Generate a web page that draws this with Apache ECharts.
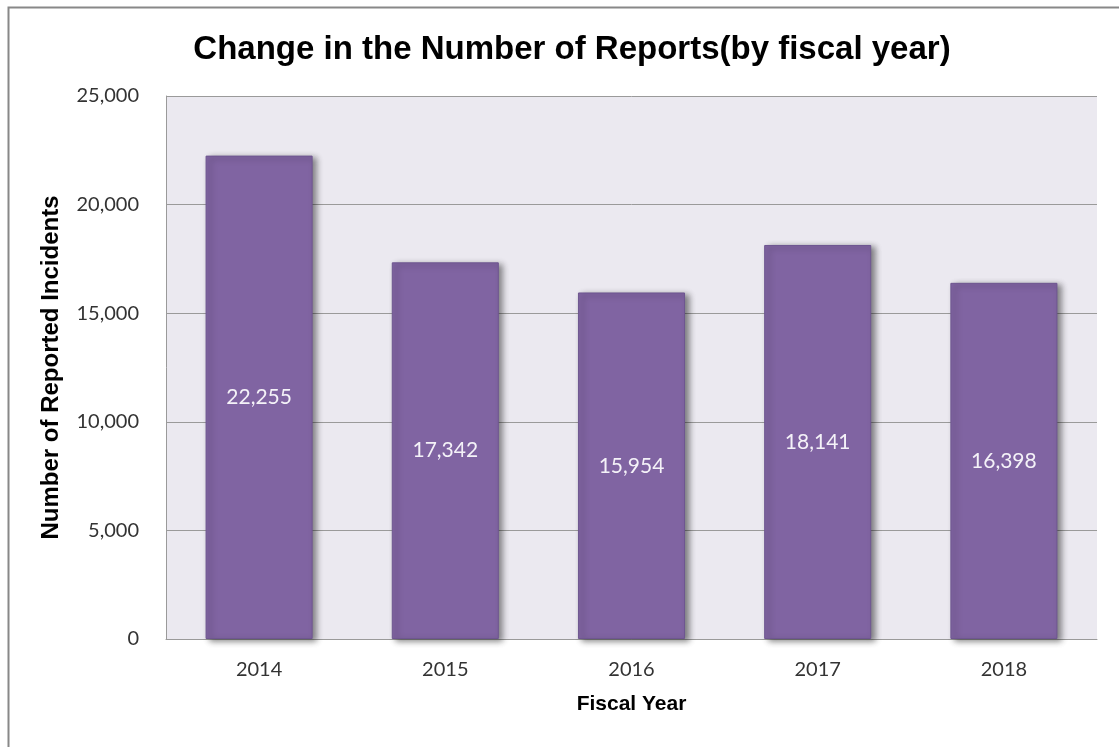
<!DOCTYPE html>
<html>
<head>
<meta charset="utf-8">
<script src="https://cdn.jsdelivr.net/npm/echarts@6/dist/echarts.min.js"></script>
<style>
html,body{margin:0;padding:0;background:#fff;}
#chart{width:1119px;height:747px;}
</style>
</head>
<body>
<div id="chart"></div>
<script>
const titleText = 'Change in the Number of Reports(by fiscal year)';
const categories = ['2014', '2015', '2016', '2017', '2018'];
const reports = [22255, 17342, 15954, 18141, 16398];
const yTicks = { min: 0, max: 25000, interval: 5000 };
const xAxisName = 'Fiscal Year';
const yAxisName = 'Number of Reported Incidents';

const chart = echarts.init(document.getElementById('chart'), null, { renderer: 'canvas' });
chart.setOption({
  animation: false,
  backgroundColor: '#ffffff',
  graphic: [{
    type: 'rect',
    shape: { x: 8.5, y: 7.5, width: 1200, height: 800 },
    style: { fill: 'none', stroke: '#888888', lineWidth: 2 },
    silent: true, z: 100
  }],
  title: {
    text: titleText,
    left: 567, top: 28,
    textAlign: 'center',
    textStyle: { fontFamily: 'Liberation Sans', fontWeight: 'bold', fontSize: 33, color: '#000000' }
  },
  grid: {
    left: 166, right: 22, top: 96, bottom: 108,
    show: true, backgroundColor: '#EBE9F0', borderWidth: 0
  },
  xAxis: {
    type: 'category',
    data: categories,
    name: xAxisName,
    nameLocation: 'middle',
    nameGap: 55,
    nameTextStyle: { fontFamily: 'Liberation Sans', fontWeight: 'bold', fontSize: 21, color: '#000' },
    axisLine: { lineStyle: { color: '#9a9a9a', width: 1 } },
    axisTick: { show: false },
    axisLabel: { fontFamily: 'Lato', fontSize: 20, color: '#333333', margin: 21 }
  },
  yAxis: {
    type: 'value',
    min: yTicks.min, max: yTicks.max, interval: yTicks.interval,
    name: yAxisName,
    nameLocation: 'middle',
    nameGap: 103,
    nameTextStyle: { fontFamily: 'Liberation Sans', fontWeight: 'bold', fontSize: 24, color: '#000' },
    axisLine: { show: true, lineStyle: { color: '#9a9a9a', width: 1 } },
    axisTick: { show: false },
    splitLine: { lineStyle: { color: '#9a9a9a', width: 1 } },
    axisLabel: {
      fontFamily: 'Lato', fontSize: 20, color: '#333333', margin: 27,
      formatter: v => v.toLocaleString('en-US')
    }
  },
  series: [{
    type: 'bar',
    data: reports,
    barWidth: '57.5%',
    itemStyle: {
      color: '#8064A2',
      borderColor: '#6E5690',
      borderWidth: 1,
      shadowColor: 'rgba(0,0,0,0.45)',
      shadowBlur: 6,
      shadowOffsetX: 4,
      shadowOffsetY: 2
    },
    label: {
      show: true,
      position: 'inside',
      fontFamily: 'Lato', fontSize: 21, color: '#f4f2f8',
      formatter: p => p.value.toLocaleString('en-US')
    }
  }]
});
</script>
</body>
</html>
